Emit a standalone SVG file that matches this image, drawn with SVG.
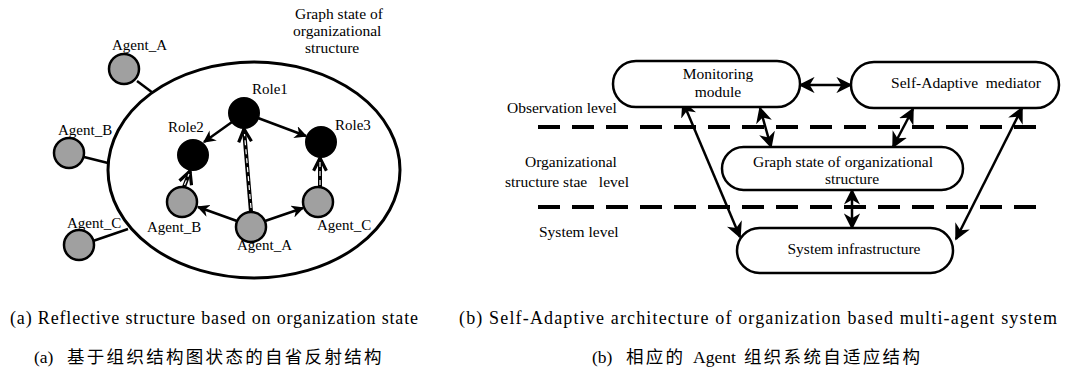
<svg xmlns="http://www.w3.org/2000/svg" width="1076" height="369" viewBox="0 0 1076 369">
<style>
text{font-family:"Liberation Serif","Times New Roman",serif;fill:#000;}
.lbl{font-size:15px;}
.rl{font-size:15.5px;}
.cap{font-size:18px;}
.cjk{font-family:"Liberation Serif","Noto Sans CJK SC",sans-serif;font-size:17.5px;}
.agent{fill:#a0a0a0;stroke:#000;stroke-width:2.5;}
.role{fill:#000;stroke:#000;stroke-width:2;}
.box{fill:#fff;stroke:#000;stroke-width:2.5;}
.ln{stroke:#000;stroke-width:2.5;fill:none;}
.dl{stroke:#000;stroke-width:4;fill:none;}
.dw{stroke:#fff;stroke-width:1.2;stroke-dasharray:5 4;fill:none;}
.lvl{stroke:#000;stroke-width:4;stroke-dasharray:22 12;fill:none;}
</style>
<defs>
<marker id="fa" viewBox="0 0 10 10" refX="9" refY="5" markerWidth="5" markerHeight="5" orient="auto-start-reverse" markerUnits="strokeWidth"><path d="M0,0 L10,5 L0,10 L3,5 z" fill="#000"/></marker>
<marker id="va" viewBox="0 0 10 10" refX="9" refY="5" markerWidth="4" markerHeight="4" orient="auto" markerUnits="strokeWidth"><path d="M1,1 L9,5 L1,9" fill="none" stroke="#000" stroke-width="2"/></marker>
<marker id="ba" viewBox="0 0 10 10" refX="9" refY="5" markerWidth="6.5" markerHeight="6.5" orient="auto-start-reverse" markerUnits="strokeWidth"><path d="M0,0 L10,5 L0,10 L3,5 z" fill="#000"/></marker>
</defs>
<rect width="1076" height="369" fill="#fff"/>

<!-- Left panel -->
<g id="graphstate">
<ellipse cx="254" cy="170" rx="146" ry="108" fill="none" stroke="#000" stroke-width="3"/>
<text class="rl" x="295" y="19">Graph state of</text>
<text class="rl" x="293" y="36">organizational</text>
<text class="rl" x="305" y="53">structure</text>
</g>

<g id="connectors-left">
<line class="ln" x1="137" y1="81" x2="153" y2="93"/>
<line class="ln" x1="84" y1="157" x2="108" y2="163"/>
<line class="ln" x1="93" y1="241" x2="128" y2="229"/>
<line class="ln" x1="232" y1="122" x2="204" y2="142" marker-end="url(#fa)"/>
<line class="ln" x1="258" y1="118" x2="306" y2="136" marker-end="url(#fa)"/>
<line class="ln" x1="237" y1="221" x2="198" y2="207" marker-end="url(#fa)"/>
<line class="ln" x1="265" y1="221" x2="303" y2="208" marker-end="url(#fa)"/>
<line class="dl" x1="251" y1="212" x2="244" y2="129" marker-end="url(#va)"/>
<line class="dw" x1="251" y1="208" x2="244.5" y2="134"/>
<line class="dl" x1="184" y1="187" x2="190" y2="171" marker-end="url(#va)"/>
<line class="dw" x1="184.5" y1="185" x2="189" y2="174"/>
<line class="dl" x1="320" y1="187" x2="320" y2="158" marker-end="url(#va)"/>
<line class="dw" x1="320" y1="185" x2="320" y2="162"/>
</g>

<g id="agentA-out"><circle class="agent" cx="124" cy="69" r="15"/><text class="lbl" x="112" y="50">Agent_A</text></g>
<g id="agentB-out"><circle class="agent" cx="69" cy="153" r="15"/><text class="lbl" x="58" y="135">Agent_B</text></g>
<g id="agentC-out"><circle class="agent" cx="79" cy="245" r="15"/><text class="lbl" x="67" y="228">Agent_C</text></g>

<g id="role1"><circle class="role" cx="244" cy="113" r="15"/><text class="lbl" x="252" y="94">Role1</text></g>
<g id="role2"><circle class="role" cx="193" cy="155" r="15"/><text class="lbl" x="168" y="132">Role2</text></g>
<g id="role3"><circle class="role" cx="321" cy="142" r="15"/><text class="lbl" x="335" y="130">Role3</text></g>
<g id="agentB-in"><circle class="agent" cx="182" cy="202" r="15"/><text class="lbl" x="147" y="232">Agent_B</text></g>
<g id="agentA-in"><circle class="agent" cx="251" cy="227" r="15"/><text class="lbl" x="237" y="250">Agent_A</text></g>
<g id="agentC-in"><circle class="agent" cx="318" cy="202" r="15"/><text class="lbl" x="317" y="230">Agent_C</text></g>

<!-- Right panel -->
<g id="levels">
<line class="lvl" x1="538" y1="127" x2="1047" y2="127"/>
<line class="lvl" x1="538" y1="207" x2="1047" y2="207"/>
<text class="rl" x="507" y="113">Observation level</text>
<text class="rl" x="525" y="167">Organizational</text>
<text class="rl" x="505" y="187" xml:space="preserve">structure stae   level</text>
<text class="rl" x="539" y="237">System level</text>
</g>

<g id="connectors-right">
<line class="ln" x1="800" y1="85" x2="851" y2="85" marker-start="url(#ba)" marker-end="url(#ba)"/>
<line class="ln" x1="760" y1="108" x2="771" y2="147" marker-start="url(#ba)" marker-end="url(#ba)"/>
<line class="ln" x1="913" y1="109" x2="893" y2="147" marker-start="url(#ba)" marker-end="url(#ba)"/>
<line class="ln" x1="852" y1="190" x2="852" y2="228" marker-start="url(#ba)" marker-end="url(#ba)"/>
<line class="ln" x1="1022" y1="108" x2="956" y2="239" marker-start="url(#ba)" marker-end="url(#ba)"/>
<line class="ln" x1="683" y1="102" x2="740" y2="237" marker-start="url(#ba)" marker-end="url(#ba)"/>
</g>

<g id="monitoring"><rect class="box" x="613" y="61" width="187" height="46" rx="23"/><text class="rl" x="718" y="79" text-anchor="middle">Monitoring</text><text class="rl" x="718" y="97" text-anchor="middle">module</text></g>
<g id="mediator"><rect class="box" x="851" y="62" width="208" height="46" rx="23"/><text class="rl" x="966" y="88" text-anchor="middle" xml:space="preserve">Self-Adaptive  mediator</text></g>
<g id="graphbox"><rect class="box" x="722" y="147" width="241" height="43" rx="21.5"/><text class="rl" x="843" y="167" text-anchor="middle">Graph state of organizational</text><text class="rl" x="852" y="184" text-anchor="middle">structure</text></g>
<g id="sysinfra"><rect class="box" x="737" y="228" width="216" height="45" rx="22.5"/><text class="rl" x="854" y="254" text-anchor="middle">System infrastructure</text></g>

<!-- Captions -->
<text class="cap" x="10" y="324" textLength="408" lengthAdjust="spacing">(a) Reflective structure based on organization state</text>
<text class="cap" x="459" y="324" textLength="598" lengthAdjust="spacing">(b) Self-Adaptive architecture of organization based multi-agent system</text>
<text class="cjk" y="363"><tspan x="34">(a)</tspan><tspan x="67" letter-spacing="2.3">基于组织结构图状态的自省反射结构</tspan></text>
<text class="cjk" y="363"><tspan x="592">(b)</tspan><tspan x="626" letter-spacing="2.3">相应的</tspan><tspan x="693">Agent</tspan><tspan x="744" letter-spacing="2.3">组织系统自适应结构</tspan></text>
</svg>
